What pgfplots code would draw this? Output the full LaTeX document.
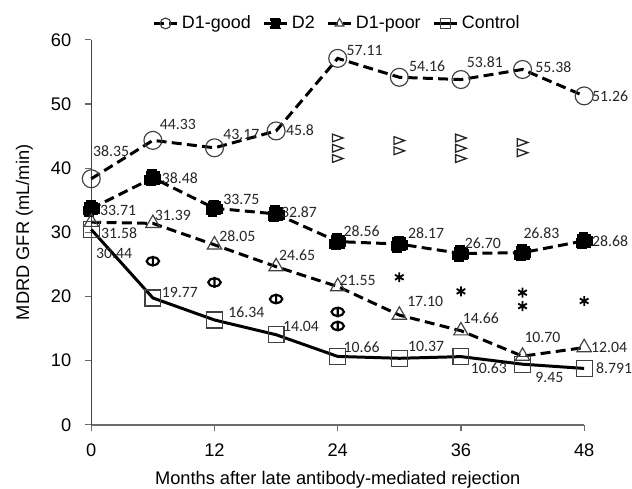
\documentclass[border=0pt]{standalone}
\usepackage{fontspec}
\setmainfont{Liberation Sans}
\newfontfamily\lblfont{Carlito}
\usepackage{pgfplots}
\usepackage{pgfplotstable}
\pgfplotsset{compat=1.18}

% right-pointing open triangle
\pgfdeclareplotmark{rtri}{%
  \pgfpathmoveto{\pgfqpoint{1.1\pgfplotmarksize}{0pt}}%
  \pgfpathlineto{\pgfqpoint{-1.1\pgfplotmarksize}{0.8\pgfplotmarksize}}%
  \pgfpathlineto{\pgfqpoint{-1.1\pgfplotmarksize}{-0.8\pgfplotmarksize}}%
  \pgfpathclose\pgfusepathqstroke}
% flat theta (oval with vertical bar)
\pgfdeclareplotmark{htheta}{%
  \pgfpathellipse{\pgfpointorigin}{\pgfqpoint{1.5\pgfplotmarksize}{0pt}}{\pgfqpoint{0pt}{0.95\pgfplotmarksize}}%
  \pgfpathmoveto{\pgfqpoint{0pt}{1.3\pgfplotmarksize}}%
  \pgfpathlineto{\pgfqpoint{0pt}{-1.3\pgfplotmarksize}}%
  \pgfusepathqstroke}

% x y label dx dy (label offsets in pt)
\pgfplotstableread{
x y lbl dx dy
0 38.35 38.35 12 16.8
6 44.33 44.33 15 9.6
12 43.17 43.17 16.2 7.8
18 45.8 45.8 14.4 0.6
24 57.11 57.11 16.2 4.8
30 54.16 54.16 16.8 6.6
36 53.81 53.81 14.4 10.2
42 55.38 55.38 18.6 1.2
48 51.26 51.26 15.6 0
}\goodtbl
\pgfplotstableread{
x y lbl dx dy
0 33.71 33.71 16.2 -1.2
6 38.48 38.48 16.2 0
12 33.75 33.75 16.2 5.4
18 32.87 32.87 13.8 1.2
24 28.56 28.56 14.4 6
30 28.17 28.17 16.2 6.6
36 26.70 26.70 13.2 6
42 26.83 26.83 11.4 12
48 28.68 28.68 15.6 0
}\dtwotbl
\pgfplotstableread{
x y lbl dx dy
0 31.58 31.58 16.8 -6.6
6 31.39 31.39 12 4.8
12 28.05 28.05 13.8 5.4
18 24.65 24.65 12.6 6.6
24 21.55 21.55 12 3.6
30 17.10 17.10 15.6 8.4
36 14.66 14.66 12 7.8
42 10.70 10.70 12 11.4
48 12.04 12.04 15 0
}\poortbl
\pgfplotstableread{
x y lbl dx dy
0 30.44 30.44 13.8 -14.4
6 19.77 19.77 16.2 3.6
12 16.34 16.34 19.2 4.8
18 14.04 14.04 15 4.8
24 10.66 10.66 14.4 5.4
30 10.37 10.37 16.2 7.2
36 10.63 10.63 16.8 -7.2
42 9.45 9.45 16.2 -7.8
48 8.791 8.791 18 0
}\ctrltbl

\pgfplotsset{
  vallabels/.style={
    nodes near coords,
    point meta=explicit symbolic,
    visualization depends on={\thisrow{dx} \as \dx},
    visualization depends on={\thisrow{dy} \as \dy},
    every node near coord/.style={anchor=center, xshift=\dx pt, yshift=\dy pt,
      font=\lblfont\fontsize{9.5}{10}\selectfont, text=black!85, inner sep=0pt},
  },
  series/.style={black, line width=1.8pt, mark options={solid, line width=0.7pt, draw=black!75}},
  dsh/.style={dash pattern=on 6pt off 3.2pt},
}

\begin{document}
\begin{tikzpicture}
\begin{axis}[
  scale only axis, width=297pt, height=232pt,
  xmin=0, xmax=48, ymin=0, ymax=60,
  xtick={0,12,24,36,48}, ytick={0,10,20,30,40,50,60},
  axis lines=left,
  x axis line style={-, gray!85!black, line width=0.9pt},
  y axis line style={-, black!75, line width=0.6pt},
  tick align=outside, major tick length=4pt,
  tick style={gray!85!black, line width=0.7pt},
  ticklabel style={font=\fontsize{11}{12}\selectfont},
  yticklabel style={xshift=-4.5pt},
  xticklabel style={yshift=-4pt},
  /pgf/number format/assume math mode=true,
  xlabel={Months after late antibody-mediated rejection},
  ylabel={MDRD GFR (mL/min)},
  ylabel shift=4pt,
  xlabel style={inner sep=0pt, yshift=-5pt},
  label style={font=\fontsize{11}{12}\selectfont},
  clip=false,
  legend columns=4,
  legend cell align=left,
  legend style={at={(0.5,1)}, anchor=south, yshift=3pt, draw=none, fill=none,
    font=\fontsize{10.8}{12}\selectfont, inner sep=0pt,
    /tikz/every even column/.append style={column sep=5pt}},
  legend image code/.code={\draw[mark repeat=2, mark phase=2, #1, /tikz/every mark/.append style={scale=0.6}]
    plot coordinates {(0pt,0pt) (7pt,0pt) (14pt,0pt)};},
]
\addplot[series, dsh, mark=o, mark size=5.4pt, vallabels] table[x=x, y=y, meta=lbl] {\goodtbl};
\addlegendentry{D1-good}
\addplot[series, dsh, mark=square*, mark size=4.2pt, mark options={fill=black, draw=black}, vallabels] table[x=x, y=y, meta=lbl] {\dtwotbl};
\addlegendentry{D2}
\addplot[series, dsh, mark=triangle, mark size=5pt, vallabels] table[x=x, y=y, meta=lbl] {\poortbl};
\addlegendentry{D1-poor}
\addplot[series, mark=square, mark size=4.8pt, vallabels] table[x=x, y=y, meta=lbl] {\ctrltbl};
\addlegendentry{Control}

% significance symbols
\addplot[only marks, mark=rtri, mark size=2.9pt, black!85, line width=0.8pt, forget plot] coordinates {
  (24,44.7) (24,43.1) (24,41.5) (30,44.3) (30,42.7)
  (36,44.7) (36,43.1) (36,41.5) (42,44.0) (42,42.4)};
\addplot[only marks, mark=htheta, mark size=2.5pt, black, line width=1.3pt, forget plot] coordinates {
  (6,25.5) (12,22.2) (18,19.6) (24,17.6) (24,15.4)};
\addplot[only marks, mark=asterisk, mark size=3pt, black, line width=1.1pt, forget plot] coordinates {
  (30,23.0) (36,20.8) (42,20.6) (42,18.5) (48,19.3)};

% white margins as in the reference
\path (rel axis cs:0.5,1) -- ++(0pt,24pt);
\path (rel axis cs:0,0.5) -- ++(-55pt,0pt);
\end{axis}
\end{tikzpicture}
\end{document}
